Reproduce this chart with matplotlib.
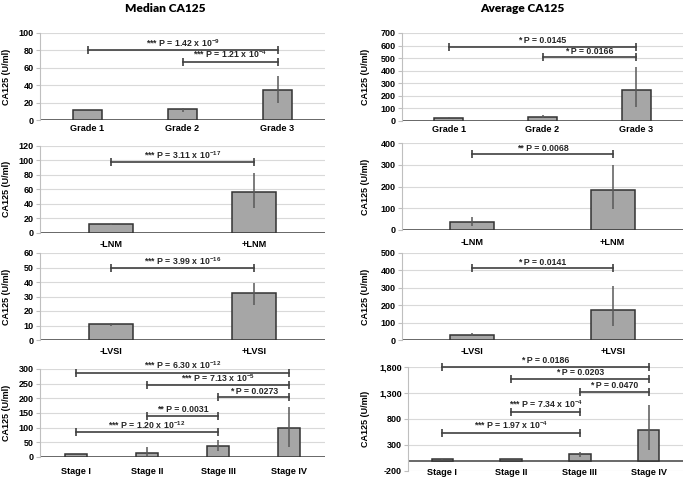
import numpy as np
import matplotlib.pyplot as plt
from matplotlib.ticker import StrMethodFormatter

plt.rcParams['font.family'] = ['Liberation Sans', 'DejaVu Sans']
plt.rcParams['font.weight'] = 'bold'
plt.rcParams['axes.unicode_minus'] = False
plt.rcParams['mathtext.fontset'] = 'custom'
plt.rcParams['mathtext.rm'] = 'Liberation Sans:bold'
plt.rcParams['mathtext.bf'] = 'Liberation Sans:bold'
plt.rcParams['mathtext.default'] = 'bf'

# categories
grade_labels = ['Grade 1', 'Grade 2', 'Grade 3']
lnm_labels = ['-LNM', '+LNM']
lvsi_labels = ['-LVSI', '+LVSI']
stage_labels = ['Stage I', 'Stage II', 'Stage III', 'Stage IV']

# median CA125 (value, lower, upper)
med_grade = [11.5, 12.5, 34]
med_grade_lo = [11, 9, 20]
med_grade_hi = [12, 14, 51]
med_lnm = [12, 56]
med_lnm_lo = [11.5, 35]
med_lnm_hi = [12.5, 83]
med_lvsi = [11, 32.5]
med_lvsi_lo = [9.5, 24]
med_lvsi_hi = [11.5, 39.5]
med_stage = [10, 13, 38, 98]
med_stage_lo = [9, 5, 21, 35]
med_stage_hi = [11, 33, 58, 172]

# average CA125 (value, lower, upper)
avg_grade = [25, 32, 250]
avg_grade_lo = [22, 22, 108]
avg_grade_hi = [28, 45, 432]
avg_lnm = [38, 185]
avg_lnm_lo = [20, 97]
avg_lnm_hi = [58, 300]
avg_lvsi = [29, 175]
avg_lvsi_lo = [22, 82]
avg_lvsi_hi = [40, 312]
avg_stage = [22, 28, 122, 588]
avg_stage_lo = [18, 22, 70, 205]
avg_stage_hi = [26, 34, 160, 1065]

# significance brackets: (from, to, height, label)
med_grade_tests = [(0, 2, 80, '*** P = 1.42 x 10$^{-9}$'),
                   (1, 2, 67, '*** P = 1.21 x 10$^{-4}$')]
med_lnm_tests = [(0, 1, 97, '*** P = 3.11 x 10$^{-17}$')]
med_lvsi_tests = [(0, 1, 49.5, '*** P = 3.99 x 10$^{-16}$')]
med_stage_tests = [(0, 3, 287, '*** P = 6.30 x 10$^{-12}$'),
                   (1, 3, 245, '*** P = 7.13 x 10$^{-5}$'),
                   (2, 3, 203, '* P = 0.0273'),
                   (1, 2, 140, '** P = 0.0031'),
                   (0, 2, 85, '*** P = 1.20 x 10$^{-12}$')]
avg_grade_tests = [(0, 2, 592, '* P = 0.0145'),
                   (1, 2, 507, '* P = 0.0166')]
avg_lnm_tests = [(0, 1, 350, '** P = 0.0068')]
avg_lvsi_tests = [(0, 1, 412, '* P = 0.0141')]
avg_stage_tests = [(0, 3, 1800, '* P = 0.0186'),
                   (1, 3, 1570, '* P = 0.0203'),
                   (2, 3, 1322, '* P = 0.0470'),
                   (1, 2, 939, '*** P = 7.34 x 10$^{-4}$'),
                   (0, 2, 536, '*** P = 1.97 x 10$^{-4}$')]

W, H = 685, 479
fig = plt.figure(figsize=(W / 100, H / 100), dpi=100)


def rect(left, top, right, bottom):
    return [left / W, 1 - bottom / H, (right - left) / W, (bottom - top) / H]


def panel(r, labels, vals, lo, hi, ylim, yticks, tests, pad, comma=False):
    ax = fig.add_axes(rect(*r))
    x = np.arange(len(labels))
    vals = np.array(vals, float)
    yerr = [vals - np.array(lo), np.array(hi) - vals]
    ax.bar(x, vals, width=0.31, color='#a6a6a6', edgecolor='#333333',
           linewidth=1.1, zorder=3)
    ax.errorbar(x, vals, yerr=yerr, fmt='none', ecolor='#595959',
                elinewidth=1.1, capsize=0, zorder=4)
    for i, j, y, txt in tests:
        ax.plot([i, j], [y, y], color='#404040', lw=1.2, marker='|',
                ms=5.5, mew=1.2, zorder=5, clip_on=False)
        ax.annotate(txt, ((i + j) / 2, y), xytext=(0, 2.5),
                    textcoords='offset points', ha='center', va='baseline',
                    fontsize=6.3, fontweight='bold', color='#262626')
    ax.set_xlim(-0.5, len(labels) - 0.5)
    ax.set_ylim(*ylim)
    ax.set_yticks(yticks)
    if comma:
        ax.yaxis.set_major_formatter(StrMethodFormatter('{x:,.0f}'))
    ax.yaxis.grid(True, color='#d9d9d9', lw=0.8)
    ax.set_axisbelow(True)
    ax.set_xticks(x, labels)
    ax.tick_params(axis='x', length=0, pad=pad, labelsize=6.6)
    ax.tick_params(axis='y', length=3, color='#bfbfbf', labelsize=6.5, pad=1.5)
    for s in ['top', 'right', 'bottom']:
        ax.spines[s].set_visible(False)
    ax.spines['left'].set_color('#bfbfbf')
    ax.spines['left'].set_linewidth(0.8)
    ax.axhline(0, color='#404040', lw=1.1, zorder=2)
    return ax


# median column
panel((40, 33, 325, 120), grade_labels, med_grade, med_grade_lo, med_grade_hi,
      (0, 100), range(0, 101, 20), med_grade_tests, 3)
panel((40, 145.7, 325, 233), lnm_labels, med_lnm, med_lnm_lo, med_lnm_hi,
      (0, 120), range(0, 121, 20), med_lnm_tests, 5)
panel((40, 253, 325, 340), lvsi_labels, med_lvsi, med_lvsi_lo, med_lvsi_hi,
      (0, 60), range(0, 61, 10), med_lvsi_tests, 5)
panel((40, 369, 325, 457), stage_labels, med_stage, med_stage_lo, med_stage_hi,
      (0, 300), range(0, 301, 50), med_stage_tests, 7)

# average column
panel((402, 33, 683, 121), grade_labels, avg_grade, avg_grade_lo, avg_grade_hi,
      (0, 700), range(0, 701, 100), avg_grade_tests, 3)
panel((402, 143.3, 683, 230), lnm_labels, avg_lnm, avg_lnm_lo, avg_lnm_hi,
      (0, 400), range(0, 401, 100), avg_lnm_tests, 6)
panel((402, 253, 683, 340), lvsi_labels, avg_lvsi, avg_lvsi_lo, avg_lvsi_hi,
      (0, 500), range(0, 501, 100), avg_lvsi_tests, 5)
panel((408, 366.7, 683, 471), stage_labels, avg_stage, avg_stage_lo, avg_stage_hi,
      (-200, 1800), range(-200, 1801, 500), avg_stage_tests, -2, comma=True)

fig.text(165 / W, 1 - 8 / H, 'Median CA125', ha='center', va='center',
         fontsize=8.6, family=['Lato', 'DejaVu Sans'], fontweight='heavy')
fig.text(522 / W, 1 - 8 / H, 'Average CA125', ha='center', va='center',
         fontsize=8.6, family=['Lato', 'DejaVu Sans'], fontweight='heavy')

for xl, ys in [(7, [77, 189, 297, 413]), (366, [77, 187, 297, 419])]:
    for yc in ys:
        fig.text(xl / W, 1 - yc / H, 'CA125 (U/ml)', rotation=90,
                 ha='center', va='center', fontsize=6.5, fontweight='bold')

plt.savefig('out.png', dpi=100)
